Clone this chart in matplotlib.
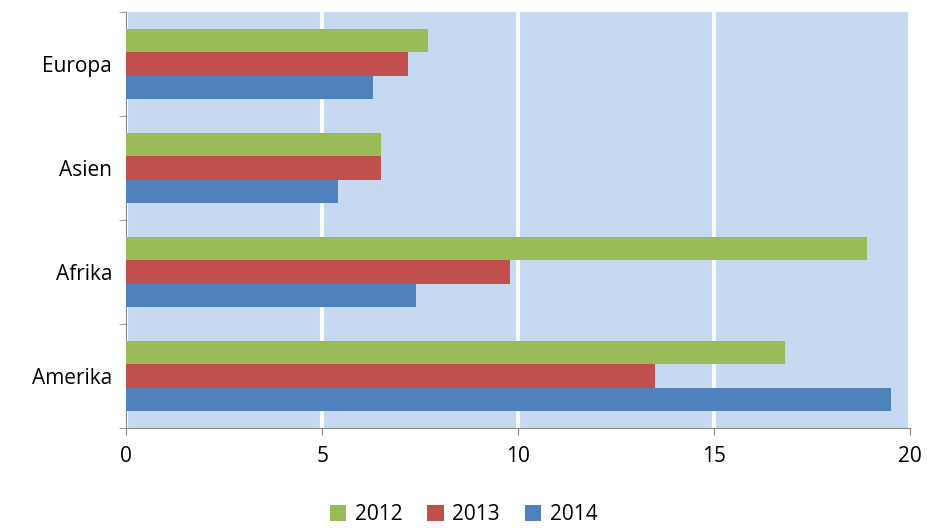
import matplotlib
matplotlib.use("Agg")
import matplotlib.pyplot as plt
import numpy as np

categories = ["Amerika", "Afrika", "Asien", "Europa"]
years = ["2012", "2013", "2014"]
v2012 = [16.8, 18.9, 6.5, 7.7]
v2013 = [13.5, 9.8, 6.5, 7.2]
v2014 = [19.5, 7.4, 5.4, 6.3]
colors = {"2012": "#9BBB59", "2013": "#C0504D", "2014": "#4F81BD"}

plt.rcParams['font.family'] = ['Open Sans', 'DejaVu Sans']
fig = plt.figure(figsize=(9.27, 5.28), dpi=100)
ax = fig.add_axes([0.136, 0.189, 0.846, 0.788])
ax.set_facecolor("#C6D9F0")
y = np.arange(len(categories))
h = 0.225
ax.barh(y - h, v2014, height=h, color=colors["2014"], label="2014", zorder=3)
ax.barh(y, v2013, height=h, color=colors["2013"], label="2013", zorder=3)
ax.barh(y + h, v2012, height=h, color=colors["2012"], label="2012", zorder=3)
ax.set_xlim(0, 20)
ax.set_ylim(-0.5, 3.5)
ax.set_xticks([0, 5, 10, 15, 20])
ax.set_yticks(y)
ax.set_yticklabels(categories)
ax.set_yticks(np.arange(-0.5, 4, 1), minor=True)
ax.tick_params(axis='y', which='major', length=0, labelsize=15, pad=10)
ax.tick_params(axis='y', which='minor', length=5, color='#888888')
ax.tick_params(axis='x', length=5, color='#888888', labelsize=15, direction='out', pad=8)
ax.grid(axis='x', color='white', linewidth=3, zorder=1)
for s in ['top', 'right']:
    ax.spines[s].set_visible(False)
for s in ['left', 'bottom']:
    ax.spines[s].set_color('#888888')
handles, labels = ax.get_legend_handles_labels()
order = [2, 1, 0]
fig.legend([handles[i] for i in order], [labels[i] for i in order], loc='lower center',
           ncol=3, frameon=False, fontsize=15, bbox_to_anchor=(0.5, -0.03),
           handlelength=0.8, handleheight=0.8, columnspacing=1.2, handletextpad=0.4)
fig.savefig("out.png", dpi=100)
